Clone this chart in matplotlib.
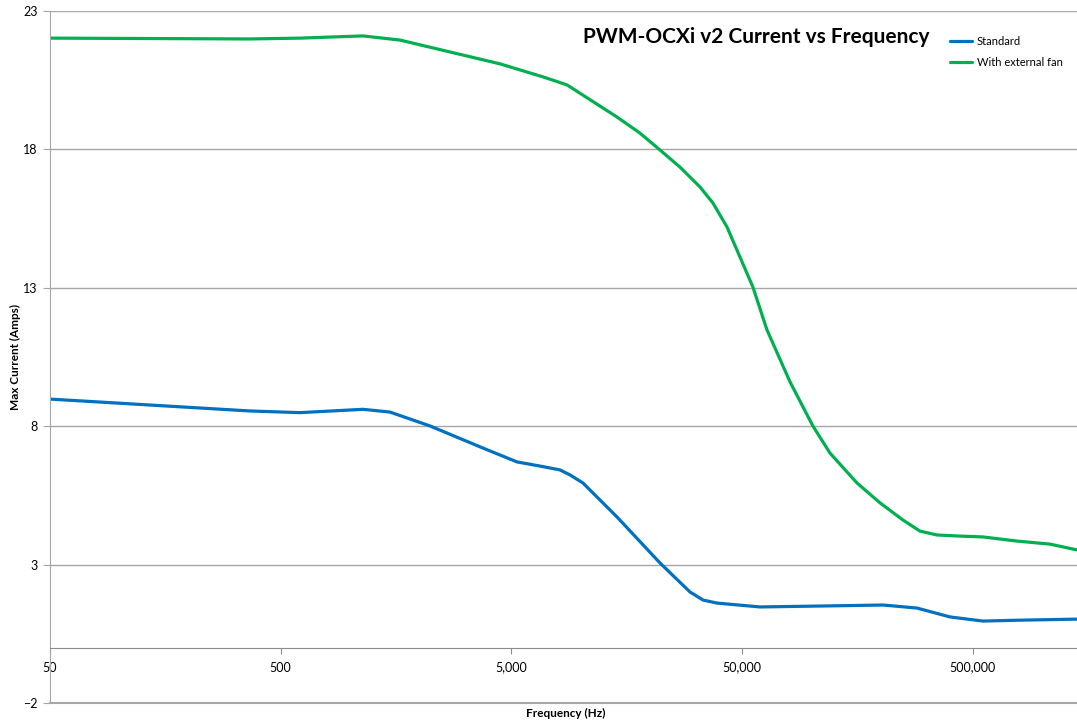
"""
plot.py

PWM-OCXi v2 max current vs PWM frequency, standard vs with external fan.
Values read off the original Excel chart.
"""
import matplotlib
matplotlib.use("Agg")
import matplotlib.pyplot as plt
from matplotlib.ticker import FixedLocator, FuncFormatter, NullLocator

plt.rcParams['font.family'] = ['Lato', 'DejaVu Sans']

# frequency (Hz) / max current (A)
std_freq = [50, 368, 606, 1137, 1489, 2218, 3766, 5287, 6652, 8124, 8975,
            10210, 14350, 22030, 29740, 33850, 38900, 59800, 146800, 204000,
            286500, 398000, 553000, 777000, 1415000]
std_amps = [8.98, 8.55, 8.49, 8.61, 8.51, 8.01, 7.21, 6.71, 6.56, 6.42, 6.24,
            5.95, 4.72, 3.06, 2.01, 1.72, 1.61, 1.47, 1.52, 1.54,
            1.43, 1.11, 0.96, 0.99, 1.03]

fan_freq = [50, 368, 606, 1137, 1644, 2710, 4465, 6855, 8710, 14350, 18030,
            22030, 26900, 32870, 37400, 43000, 48970, 55700, 64100, 80700,
            101500, 120200, 157400, 198100, 249200, 295100, 349800, 440000,
            553000, 777000, 1081000, 1415000]
fan_amps = [22.02, 21.99, 22.02, 22.10, 21.95, 21.52, 21.09, 20.62, 20.33,
            19.17, 18.59, 17.98, 17.36, 16.64, 16.06, 15.20, 14.11, 13.03,
            11.48, 9.60, 8.00, 7.03, 5.95, 5.23, 4.61, 4.21, 4.07, 4.03,
            4.00, 3.85, 3.74, 3.53]

x_ticks = [50, 500, 5000, 50000, 500000]
y_ticks = [-2, 3, 8, 13, 18, 23]

BLUE = "#0070C0"
GREEN = "#00B050"
GRID = "#a6a6a6"

fig = plt.figure(figsize=(10.77, 7.22), dpi=100)
ax = fig.add_axes([50 / 1077, 1 - 703 / 722, 1 - 50 / 1077, 692 / 722])

ax.plot(std_freq, std_amps, color=BLUE, lw=2.3, label="Standard",
        solid_capstyle="round", solid_joinstyle="round")
ax.plot(fan_freq, fan_amps, color=GREEN, lw=2.3, label="With external fan",
        solid_capstyle="round", solid_joinstyle="round")

ax.set_xscale("log")
ax.set_xlim(50, 1415000)
ax.set_ylim(-2, 23)

ax.xaxis.set_major_locator(FixedLocator(x_ticks))
ax.xaxis.set_minor_locator(NullLocator())
ax.xaxis.set_major_formatter(FuncFormatter(lambda v, p: f"{v:,.0f}"))
ax.yaxis.set_major_locator(FixedLocator(y_ticks))

ax.grid(axis="y", color=GRID, lw=1.0)
ax.set_axisbelow(True)

# x axis crosses at 0 like the Excel original
ax.spines["bottom"].set_position(("data", 0))
ax.spines["bottom"].set_color("#8c8c8c")
ax.spines["left"].set_color(GRID)
ax.spines["top"].set_visible(False)
ax.spines["right"].set_visible(False)
ax.axhline(-2, color=GRID, lw=1.5, clip_on=False)

ax.tick_params(axis="x", direction="out", length=4, color="#8c8c8c",
               labelsize=9, pad=6)
ax.tick_params(axis="y", direction="out", length=5, color=GRID,
               labelsize=9, pad=4)

fig.text(566 / 1077, 1 - 713 / 722, "Frequency (Hz)",
         ha="center", va="center", fontsize=8.5, fontweight="bold")
fig.text(15 / 1077, 1 - 357 / 722, "Max Current (Amps)", rotation=90,
         ha="center", va="center", fontsize=8.5, fontweight="bold")

fig.text(756 / 1077, 1 - 37 / 722, "PWM-OCXi v2 Current vs Frequency",
         ha="center", va="center", fontsize=15, fontweight="bold")

ax.legend(loc="upper left", bbox_to_anchor=(940 / 1077, 1 - 26 / 722),
          bbox_transform=fig.transFigure, frameon=False, fontsize=8,
          handlelength=2.0, handletextpad=0.4, labelspacing=0.9)

fig.savefig("out.png", dpi=100)
